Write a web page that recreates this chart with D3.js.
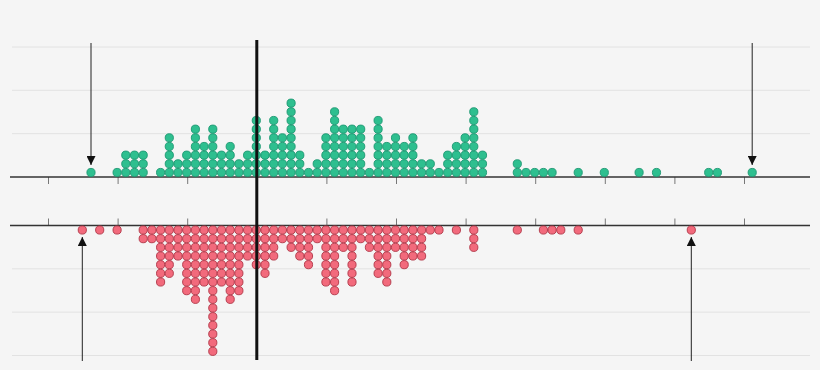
<!DOCTYPE html>
<html>
<head>
<meta charset="utf-8">
<script src="https://cdn.jsdelivr.net/npm/d3@7"></script>
<style>
  html, body { margin: 0; padding: 0; background: #f5f5f5; }
  svg { display: block; }
</style>
</head>
<body>
<div id="chart"></div>
<script>
// Column positions (bin index) and stack heights
var greenBins   = [5, 8, 9, 10, 11, 13, 14, 15, 16, 17, 18, 19, 20, 21, 22, 23, 24, 25, 26, 27, 28, 29, 30,
                   31, 32, 33, 34, 35, 36, 37, 38, 39, 40, 41, 42, 43, 44, 45, 46, 47, 48, 49, 50,
                   54, 55, 56, 57, 58, 61, 64, 68, 70, 76, 77, 81];
var greenCounts = [1, 1, 3, 3, 3, 1, 5, 2, 3, 6, 4, 6, 3, 4, 2, 3, 7, 3, 7, 5, 9, 3, 1,
                   2, 5, 8, 6, 6, 6, 1, 7, 4, 5, 4, 5, 2, 2, 1, 3, 4, 5, 8, 3,
                   2, 1, 1, 1, 1, 1, 1, 1, 1, 1, 1, 1];

var redBins   = [4, 6, 8, 11, 12, 13, 14, 15, 16, 17, 18, 19, 20, 21, 22, 23, 24, 25, 26, 27, 28, 29, 30,
                 31, 32, 33, 34, 35, 36, 37, 38, 39, 40, 41, 42, 43, 44, 45, 47, 49,
                 54, 57, 58, 59, 61, 74];
var redCounts = [1, 1, 1, 2, 2, 7, 6, 4, 8, 9, 7, 15, 7, 9, 8, 4, 5, 6, 4, 2, 3, 4, 5,
                 2, 7, 8, 3, 7, 2, 3, 6, 7, 3, 5, 4, 4, 1, 1, 1, 3,
                 1, 1, 1, 1, 1, 1];

var tickBins   = [0, 8, 16, 24, 32, 40, 48, 56, 64, 72, 80];
var gridLevels = [5, 10, 15];
var markerBin  = 24;                 // thick vertical reference line
var greenArrows = [5, 81];           // min / max of top group
var redArrows   = [4, 74];           // min / max of bottom group

var width = 820, height = 370;

var svg = d3.select('#chart').append('svg')
    .attr('width', width)
    .attr('height', height);

svg.append('rect')
    .attr('width', width).attr('height', height)
    .attr('fill', '#f5f5f5');

var x = d3.scaleLinear().domain([0, 80]).range([48, 744]);
var yTop = d3.scaleLinear().domain([0, 15]).range([177, 47]);
var yBot = d3.scaleLinear().domain([0, 15]).range([225.5, 355.5]);

// expand columns into individual dots
function toDots(bins, counts) {
    var dots = [];
    bins.forEach(function(b, i) {
        for (var k = 0; k < counts[i]; k++) dots.push({ bin: b, level: k });
    });
    return dots;
}

// gridlines
svg.append('g').selectAll('line')
    .data(gridLevels)
    .enter().append('line')
        .attr('x1', 12).attr('x2', 810)
        .attr('y1', function(d) { return yTop(d); })
        .attr('y2', function(d) { return yTop(d); })
        .attr('stroke', '#e2e2e2').attr('stroke-width', 1);
svg.append('g').selectAll('line')
    .data(gridLevels)
    .enter().append('line')
        .attr('x1', 12).attr('x2', 810)
        .attr('y1', function(d) { return yBot(d); })
        .attr('y2', function(d) { return yBot(d); })
        .attr('stroke', '#e2e2e2').attr('stroke-width', 1);

// axes
var axisTop = d3.axisBottom(x).tickValues(tickBins).tickSize(7).tickFormat('');
var axisBot = d3.axisTop(x).tickValues(tickBins).tickSize(7).tickFormat('');

function styleAxis(g) {
    g.select('.domain').remove();
    g.selectAll('.tick line').attr('stroke', '#777').attr('stroke-width', 1);
}

svg.append('g')
    .attr('transform', 'translate(0,' + yTop(0) + ')')
    .call(axisTop).call(styleAxis);
svg.append('g')
    .attr('transform', 'translate(0,' + yBot(0) + ')')
    .call(axisBot).call(styleAxis);

svg.append('line')
    .attr('x1', 10).attr('x2', 810)
    .attr('y1', yTop(0)).attr('y2', yTop(0))
    .attr('stroke', '#333').attr('stroke-width', 1.5);
svg.append('line')
    .attr('x1', 10).attr('x2', 810)
    .attr('y1', yBot(0)).attr('y2', yBot(0))
    .attr('stroke', '#333').attr('stroke-width', 1.5);

// dots
svg.append('g').selectAll('circle')
    .data(toDots(greenBins, greenCounts))
    .enter().append('circle')
        .attr('cx', function(d) { return x(d.bin) - 0.5; })
        .attr('cy', function(d) { return yTop(d.level + 0.52); })
        .attr('r', 4.1)
        .attr('fill', '#2ebf8f')
        .attr('stroke', '#1b9670')
        .attr('stroke-width', 0.9);

svg.append('g').selectAll('circle')
    .data(toDots(redBins, redCounts))
    .enter().append('circle')
        .attr('cx', function(d) { return x(d.bin) - 0.5; })
        .attr('cy', function(d) { return yBot(d.level + 0.52); })
        .attr('r', 4.1)
        .attr('fill', '#f26a7c')
        .attr('stroke', '#b03445')
        .attr('stroke-width', 0.9);

// reference line
svg.append('line')
    .attr('x1', x(markerBin)).attr('x2', x(markerBin))
    .attr('y1', 40).attr('y2', 360)
    .attr('stroke', '#111').attr('stroke-width', 3);

// arrows
var defs = svg.append('defs');
defs.append('marker')
    .attr('id', 'arrowhead')
    .attr('viewBox', '0 0 10 10')
    .attr('refX', 10).attr('refY', 5)
    .attr('markerWidth', 10).attr('markerHeight', 9)
    .attr('markerUnits', 'userSpaceOnUse')
    .attr('orient', 'auto')
    .append('path')
        .attr('d', 'M0,0 L10,5 L0,10 Z')
        .attr('fill', '#111');

svg.append('g').selectAll('line')
    .data(greenArrows)
    .enter().append('line')
        .attr('x1', function(d) { return x(d) - 0.5; })
        .attr('x2', function(d) { return x(d) - 0.5; })
        .attr('y1', 43).attr('y2', 165)
        .attr('stroke', '#222').attr('stroke-width', 1)
        .attr('marker-end', 'url(#arrowhead)');

svg.append('g').selectAll('line')
    .data(redArrows)
    .enter().append('line')
        .attr('x1', function(d) { return x(d) - 0.5; })
        .attr('x2', function(d) { return x(d) - 0.5; })
        .attr('y1', 361).attr('y2', 237)
        .attr('stroke', '#222').attr('stroke-width', 1)
        .attr('marker-end', 'url(#arrowhead)');
</script>
</body>
</html>
